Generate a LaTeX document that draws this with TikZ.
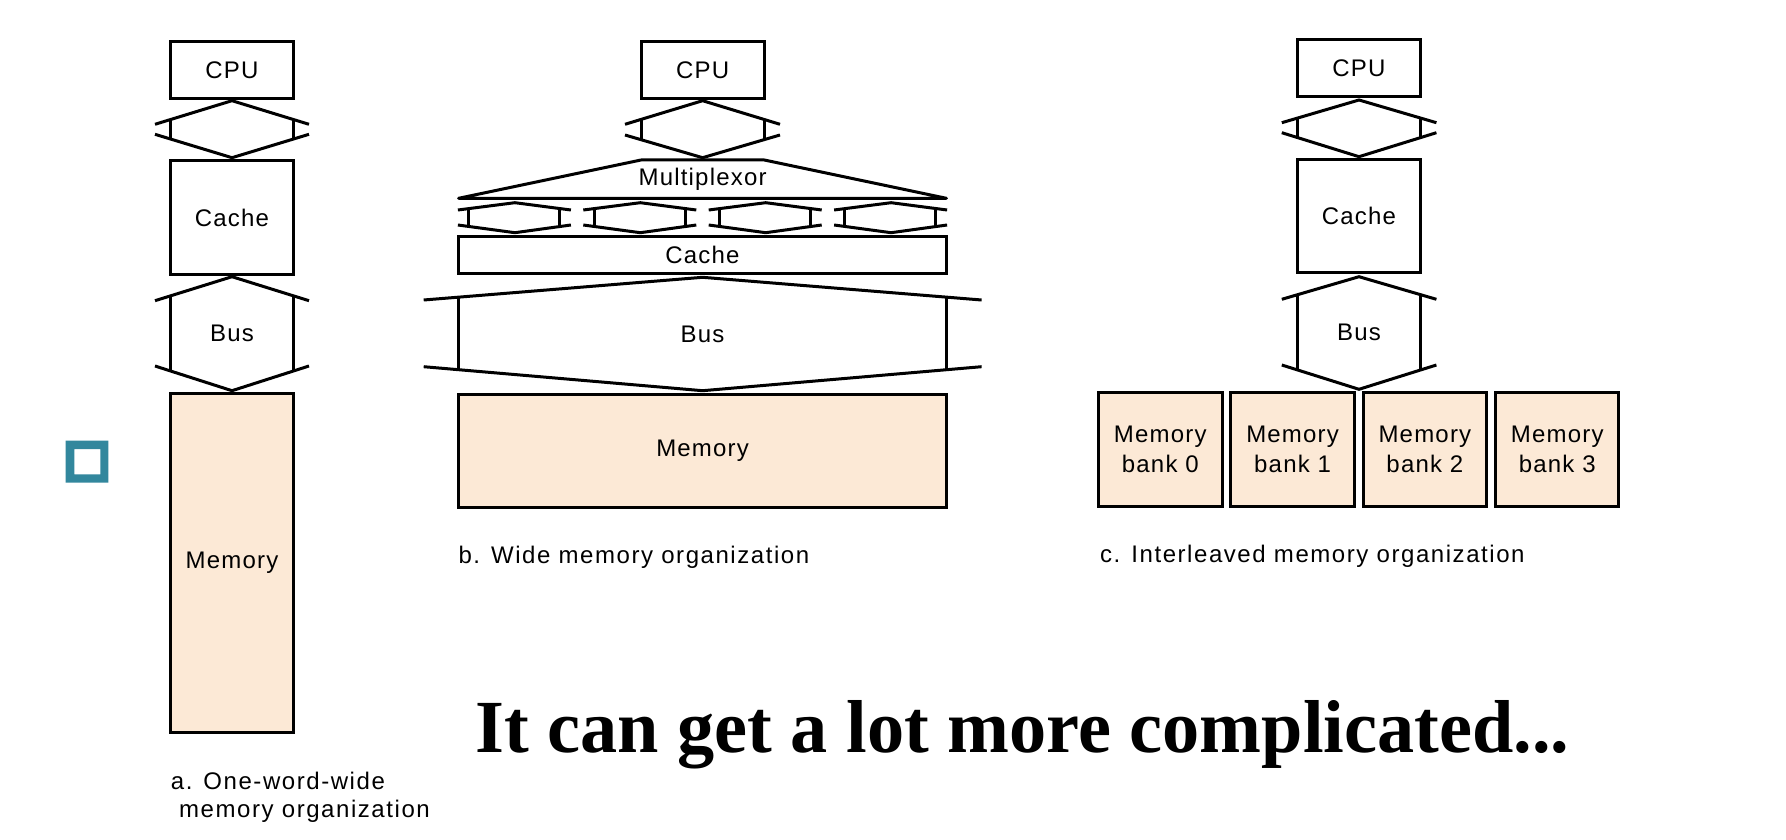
\documentclass[tikz,border=0pt]{standalone}
\usepackage{graphicx}
\usepackage{fontspec}
\setmainfont{Liberation Sans}
\newfontfamily\titlefont{Liberation Serif}
\newfontfamily\lblfont[LetterSpace=5]{Liberation Sans}
\newfontfamily\capfont[LetterSpace=6.5]{Liberation Sans}
\usetikzlibrary{calc}
\definecolor{mempeach}{RGB}{252,233,214}
\definecolor{tealsq}{RGB}{50,135,157}

% bus connector symbol: #1 L, #2 xl, #3 C, #4 xr, #5 R, #6 top apex y, #7 roof end y, #8 floor end y, #9 bottom apex y
\newcommand\busconn[9]{%
  \draw[wire] (#1,#7) -- (#3,#6) -- (#5,#7);
  \draw[wire] (#1,#8) -- (#3,#9) -- (#5,#8);
  \pgfmathsetmacro\ta{(#2-#1)/(#3-#1)}%
  \pgfmathsetmacro\tb{(#5-#4)/(#5-#3)}%
  \draw[wire] ($(#1,#7)!\ta!(#3,#6)$) -- ($(#1,#8)!\ta!(#3,#9)$);
  \draw[wire] ($(#5,#7)!\tb!(#3,#6)$) -- ($(#5,#8)!\tb!(#3,#9)$);
}
% box node: #1 style, #2 x1, #3 y1, #4 x2, #5 y2, #6 name, #7 text
\newcommand\mkbox[7]{%
  \node[#1, minimum width={#4-#2}, minimum height={#5-#3}] (#6) at ({(#2+#4)/2},{(#3+#5)/2}) {#7};}

\begin{document}
\begin{tikzpicture}[x=1pt,y=-1pt,
  wire/.style={line width=3pt},
  box/.style={draw, line width=3pt, inner sep=0pt, align=center,
     font=\lblfont\fontsize{24}{30}\selectfont},
  membox/.style={box, fill=mempeach},
  captext/.style={font=\capfont\fontsize{24}{28}\selectfont, anchor=base west, inner sep=0pt},
  lbl/.style={font=\lblfont\fontsize{24}{30}\selectfont, inner sep=0pt}]
\useasboundingbox[fill=white] (0,0) rectangle (1786,840);

% ---------- teal square ----------
\fill[tealsq, even odd rule] (65.7,440.7) rectangle (108.3,482.7) (74.3,449) rectangle (100.3,474.3);

% ---------- a. One-word-wide ----------
\mkbox{box}{170.7}{41.7}{293.3}{98.3}{cpuA}{CPU}
\busconn{155}{170.7}{232}{293.3}{309}{100.7}{124.3}{134.3}{157.7}
\mkbox{box}{170.7}{160.7}{293.3}{274.3}{cacheA}{Cache}
\busconn{155}{170.7}{232}{293.3}{309}{276.7}{300.7}{366}{390.7}
\node[lbl] (busA) at (232,333.3) {Bus};
\mkbox{membox}{170.7}{393.3}{293.3}{732.7}{memA}{Memory}
\node[captext] (capA1) at (170.7,789) {a. One-word-wide};
\node[captext] (capA2) at (179,817) {memory organization};

% ---------- b. Wide ----------
\mkbox{box}{641}{41.7}{764.3}{98.3}{cpuB}{CPU}
\busconn{625}{641}{702.6}{764.3}{780}{100.7}{124.3}{135}{157.7}
\draw[wire, line join=round] (641,160) -- (764.3,160) -- (946.4,198.3) -- (458.6,198.3) -- cycle;
\node[lbl] (muxB) at (702.6,179) {Multiplexor};
\foreach \i in {0,1,2,3}{
  \pgfmathsetmacro\L{457.9+125.4*\i}
  \pgfmathsetmacro\XL{\L+10.7}
  \pgfmathsetmacro\C{\L+57}
  \pgfmathsetmacro\XR{\L+101.7}
  \pgfmathsetmacro\R{\L+113}
  \busconn{\L}{\XL}{\C}{\XR}{\R}{202.7}{210}{225}{232.7}
}
\mkbox{box}{458.6}{236}{946.4}{273.3}{cacheB}{Cache}
\busconn{423.7}{458.8}{702.6}{946.4}{981.6}{277.3}{300}{366.7}{390.7}
\node[lbl] (busB) at (702.6,334) {Bus};
\mkbox{membox}{458.8}{394.3}{946.4}{507.7}{memB}{Memory}
\node[captext] (capB) at (458.3,563) {b. Wide memory organization};

% ---------- c. Interleaved ----------
\mkbox{box}{1297.9}{40}{1420}{96.7}{cpuC}{CPU}
\busconn{1281.8}{1297.9}{1359}{1420}{1436.4}{100}{122.7}{132.7}{156.7}
\mkbox{box}{1297.9}{159.3}{1420}{272.7}{cacheC}{Cache}
\busconn{1281.8}{1297.9}{1359}{1420}{1436.4}{276.7}{299.3}{365}{389.3}
\node[lbl] (busC) at (1359,332.7) {Bus};
\mkbox{membox}{1098.6}{392.7}{1222}{506}{bank0}{Memory\\bank 0}
\mkbox{membox}{1230.9}{392.7}{1354.3}{506}{bank1}{Memory\\bank 1}
\mkbox{membox}{1363.2}{392.7}{1486.6}{506}{bank2}{Memory\\bank 2}
\mkbox{membox}{1495.5}{392.7}{1618.9}{506}{bank3}{Memory\\bank 3}
\node[captext] (capC) at (1100,562) {c. Interleaved memory organization};

% ---------- title ----------
\node[anchor=base west, inner sep=0pt] (title) at (475,752)
  {\resizebox{1094pt}{\height}{\titlefont\bfseries\fontsize{75}{75}\selectfont It can get a lot more complicated...}};
\end{tikzpicture}
\end{document}
